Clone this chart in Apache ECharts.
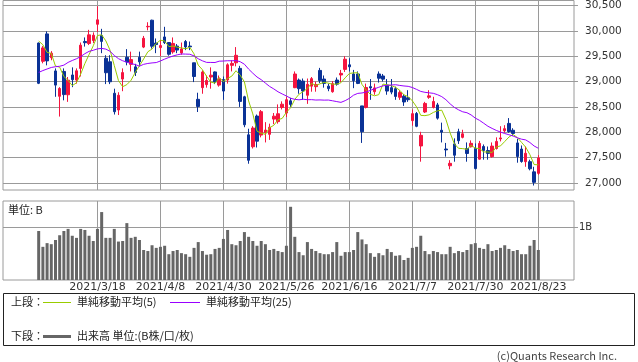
<!DOCTYPE html>
<html><head><meta charset="utf-8">
<script src="https://cdn.jsdelivr.net/npm/echarts@6/dist/echarts.min.js"></script>
<style>html,body{margin:0;padding:0;background:#fff}#c{width:638px;height:362px}</style>
</head><body><div id="c"></div>
<script>
const dates = ['2021/2/26','2021/3/1','2021/3/2','2021/3/3','2021/3/4','2021/3/5','2021/3/8','2021/3/9','2021/3/10','2021/3/11','2021/3/12','2021/3/15','2021/3/16','2021/3/17','2021/3/18','2021/3/19','2021/3/22','2021/3/23','2021/3/24','2021/3/25','2021/3/26','2021/3/29','2021/3/30','2021/3/31','2021/4/1','2021/4/2','2021/4/5','2021/4/6','2021/4/7','2021/4/8','2021/4/9','2021/4/12','2021/4/13','2021/4/14','2021/4/15','2021/4/16','2021/4/19','2021/4/20','2021/4/21','2021/4/22','2021/4/23','2021/4/26','2021/4/27','2021/4/28','2021/4/30','2021/5/6','2021/5/7','2021/5/10','2021/5/11','2021/5/12','2021/5/13','2021/5/14','2021/5/17','2021/5/18','2021/5/19','2021/5/20','2021/5/21','2021/5/24','2021/5/25','2021/5/26','2021/5/27','2021/5/28','2021/5/31','2021/6/1','2021/6/2','2021/6/3','2021/6/4','2021/6/7','2021/6/8','2021/6/9','2021/6/10','2021/6/11','2021/6/14','2021/6/15','2021/6/16','2021/6/17','2021/6/18','2021/6/21','2021/6/22','2021/6/23','2021/6/24','2021/6/25','2021/6/28','2021/6/29','2021/6/30','2021/7/1','2021/7/2','2021/7/5','2021/7/6','2021/7/7','2021/7/8','2021/7/9','2021/7/12','2021/7/13','2021/7/14','2021/7/15','2021/7/16','2021/7/19','2021/7/20','2021/7/21','2021/7/26','2021/7/27','2021/7/28','2021/7/29','2021/7/30','2021/8/2','2021/8/3','2021/8/4','2021/8/5','2021/8/6','2021/8/10','2021/8/11','2021/8/12','2021/8/13','2021/8/16','2021/8/17','2021/8/18','2021/8/19','2021/8/20','2021/8/23'];

const opens = [29760,29400,29940,29470,29210,28710,29200,28740,29130,29030,29260,29790,29750,29810,30130,29910,29460,29390,28770,28440,29050,29480,29340,29290,29480,29680,30080,30210,29760,29670,29880,29770,29585,29700,29565,29790,29700,29370,28650,28880,28940,29090,29190,28930,29040,29030,29320,29370,29260,28700,27950,27715,28320,27945,27990,27960,28260,28210,28490,28380,28620,28880,29030,29010,28730,28910,28900,29220,29050,28910,28800,29030,29130,29240,29330,29150,29150,28520,28490,28900,28800,29150,29110,28930,28880,28860,28690,28710,28680,28230,28370,27730,28400,28690,28490,28540,28040,27670,27340,27770,28010,27900,27680,27715,27680,27470,27720,27640,27520,27680,27870,28030,28175,28040,27790,27670,27420,27420,27220,27190];
const highs = [29770,29700,29990,29600,29260,28890,29260,29090,29280,29260,29770,29870,30020,29970,30485,30040,29520,29520,28860,28790,29260,29640,29590,29350,29590,29900,30170,30220,29850,29820,30080,29780,29870,29740,29770,29820,29790,29370,28780,29220,29120,29280,29200,29120,29100,29360,29420,29680,29310,28720,28070,28120,28350,28440,28200,28170,28380,28550,28610,28700,28680,29200,29060,29060,29060,29090,29000,29270,29120,28960,29010,29080,29230,29500,29460,29230,29200,28520,28960,29050,28960,29200,29150,29050,29050,28900,28830,28750,28830,28450,28400,28010,28600,28830,28700,28580,28190,27790,27450,27880,28070,28050,27800,27840,27780,27830,27760,27720,27800,27900,28120,28140,28280,28080,27870,27740,27720,27460,27320,27550];
const lows = [28950,29360,29320,29420,28700,28310,28630,28600,28890,28960,29100,29690,29720,29760,29980,29560,28950,28950,28350,28340,28810,29320,29200,29110,29300,29660,30010,29650,29560,29500,29740,29510,29550,29560,29530,29620,29620,28990,28400,28760,28880,28860,28950,28900,28640,28960,29200,29300,28500,28100,27380,27680,27700,27900,27800,27850,28160,28170,28450,28300,28500,28870,28760,28640,28560,28800,28800,28970,28880,28810,28780,28920,28990,29190,29200,28870,28950,27790,28470,28640,28740,28980,29000,28740,28750,28640,28640,28520,28600,28130,28100,27420,28380,28660,28470,28250,27800,27520,27270,27420,27770,27880,27420,27700,27270,27460,27460,27460,27500,27660,27820,27990,27990,27930,27400,27400,27320,27250,26950,27160];
const closes = [28966,29664,29408,29559,28930,28864,28743,29028,29037,29212,29718,29767,29921,29914,30217,29792,29174,28996,28406,28730,29177,29385,29433,29179,29389,29854,30089,29697,29731,29709,29768,29539,29752,29621,29643,29683,29685,29100,28509,29188,29021,29126,28992,29054,28813,29331,29358,29518,28609,28148,27448,28084,27825,28407,28044,28098,28318,28365,28554,28642,28549,29149,28860,28814,28946,29058,28942,29019,28964,28861,28959,28949,29162,29441,29291,29018,28964,28011,28884,28875,28875,29066,29048,28813,28792,28707,28783,28598,28643,28367,28118,27940,28569,28718,28608,28279,28003,27653,27388,27548,27833,27970,27582,27782,27284,27781,27642,27584,27728,27820,27888,28071,28015,27977,27523,27424,27586,27281,27013,27494];

const ma5 = [29798,29726,29576,29554,29306,29284,29100,29024,28920,28976,29148,29354,29532,29706,29908,29922,29802,29618,29318,29020,28898,28940,29026,29180,29312,29446,29588,29642,29752,29816,29800,29690,29700,29678,29664,29646,29676,29546,29324,29234,29102,28990,28968,29076,29000,29062,29108,29214,29126,28994,28618,28362,28022,27982,27960,28090,28138,28246,28274,28394,28484,28650,28750,28802,28864,28966,28924,28956,28986,28968,28948,28950,28978,29074,29160,29172,29174,28944,28832,28748,28720,28742,28950,28936,28920,28886,28828,28738,28704,28620,28502,28334,28328,28344,28392,28424,28436,28252,27986,27774,27684,27678,27664,27742,27688,27678,27612,27612,27602,27710,27732,27818,27906,27956,27896,27802,27706,27558,27364,27358];
const ma25 = [29181,29217,29248,29278,29293,29302,29324,29378,29416,29450,29493,29550,29596,29617,29645,29654,29640,29597,29515,29452,29410,29384,29355,29336,29304,29340,29357,29368,29375,29406,29443,29475,29504,29527,29544,29542,29539,29506,29450,29409,29378,29377,29376,29402,29405,29411,29410,29414,29391,29342,29246,29165,29090,29037,28970,28904,28855,28799,28756,28716,28671,28650,28640,28652,28642,28644,28636,28638,28634,28636,28621,28605,28590,28624,28669,28732,28767,28775,28794,28827,28858,28888,28916,28926,28932,28938,28924,28913,28906,28883,28846,28806,28788,28778,28768,28741,28703,28642,28560,28491,28443,28404,28386,28342,28279,28235,28178,28119,28076,28037,28004,27976,27952,27926,27892,27864,27850,27798,27730,27685];

const volumes = [0.93,0.63,0.70,0.68,0.76,0.85,0.93,0.97,0.84,0.80,0.97,0.95,0.84,0.74,0.97,1.29,0.80,0.80,0.97,0.73,0.74,1.08,0.80,0.82,0.76,0.57,0.55,0.66,0.61,0.63,0.65,0.49,0.55,0.57,0.51,0.49,0.44,0.61,0.72,0.55,0.48,0.49,0.59,0.61,0.78,0.95,0.68,0.66,0.74,0.91,0.82,0.74,0.65,0.74,0.68,0.57,0.59,0.55,0.53,0.65,1.39,0.82,0.53,0.47,0.72,0.59,0.55,0.51,0.49,0.49,0.53,0.72,0.46,0.53,0.53,0.57,0.91,0.77,0.68,0.51,0.44,0.51,0.47,0.59,0.53,0.46,0.47,0.38,0.42,0.61,0.63,0.84,0.55,0.49,0.55,0.53,0.49,0.49,0.63,0.51,0.55,0.53,0.57,0.68,0.70,0.61,0.59,0.68,0.55,0.57,0.61,0.66,0.59,0.55,0.57,0.49,0.49,0.65,0.76,0.57];

const labelDates = ['2021/3/18','2021/4/8','2021/4/30','2021/5/26','2021/6/16','2021/7/7','2021/7/30','2021/8/23'];
const priceTicks = [27000,27500,28000,28500,29000,29500,30000,30500];
const volumeTicks = [1];

const PAD = 8;
const cats = [];
for (let k = 0; k < PAD; k++) cats.push('L' + k);
dates.forEach(d => cats.push(d));
for (let k = 0; k < PAD; k++) cats.push('R' + k);
const padArr = () => Array(PAD).fill('-');
const withPad = arr => padArr().concat(arr, padArr());

const candleData = withPad(dates.map((d, i) => [opens[i], closes[i], lows[i], highs[i]]));
const labelSet = new Set(labelDates);

const RED = '#f5143f', BLUE = '#0a3296', GRID = '#9a9a9a';
const vLines = () => ({
  silent: true, symbol: 'none', z: 1, animation: false,
  label: { show: false },
  lineStyle: { color: GRID, width: 1, type: 'solid' },
  emphasis: { disabled: true },
  data: labelDates.map(d => ({ xAxis: d }))
});

const chart = echarts.init(document.getElementById('c'), null, { renderer: 'canvas' });
const jp = '"Noto Sans CJK JP", sans-serif';
chart.setOption({
  animation: false,
  backgroundColor: '#fff',
  grid: [
    { left: 3, top: 0, width: 571, height: 190, show: true, borderColor: GRID, borderWidth: 1 },
    { left: 3, top: 201, width: 571, height: 79, show: true, borderColor: GRID, borderWidth: 1 }
  ],
  xAxis: [
    { type: 'category', gridIndex: 0, data: cats, boundaryGap: true,
      axisLine: { show: false }, axisTick: { show: false }, axisLabel: { show: false }, splitLine: { show: false } },
    { type: 'category', gridIndex: 1, data: cats, boundaryGap: true,
      axisLine: { show: false }, axisTick: { show: false }, splitLine: { show: false },
      axisLabel: { show: true, interval: (i, v) => labelSet.has(v), fontSize: 11, color: '#333',
        fontFamily: 'DejaVu Sans', margin: 2 } }
  ],
  yAxis: [
    { type: 'value', gridIndex: 0, position: 'right', min: 26862, max: 30598, scale: true,
      axisLine: { show: false },
      axisTick: { show: true, length: 4, customValues: priceTicks, lineStyle: { color: GRID } },
      axisLabel: { customValues: priceTicks, margin: 11, fontSize: 10.5, color: '#333', fontFamily: 'DejaVu Sans',
        formatter: v => v.toLocaleString('en-US') },
      splitLine: { show: true, lineStyle: { color: GRID, width: 1 } } },
    { type: 'value', gridIndex: 1, position: 'right', min: 0, max: 1.5,
      axisLine: { show: false },
      axisTick: { show: true, length: 4, customValues: volumeTicks, lineStyle: { color: GRID } },
      axisLabel: { customValues: volumeTicks, margin: 5, fontSize: 10, color: '#333', fontFamily: 'DejaVu Sans',
        formatter: v => v + 'B' },
      splitLine: { show: true, lineStyle: { color: GRID, width: 1 } } }
  ],
  series: [
    { type: 'candlestick', name: '日足', xAxisIndex: 0, yAxisIndex: 0, data: candleData, barWidth: 3,
      itemStyle: { color: RED, color0: BLUE, borderColor: RED, borderColor0: BLUE, borderWidth: 1 },
      markLine: vLines() },
    { type: 'line', name: '単純移動平均(5)', xAxisIndex: 0, yAxisIndex: 0, data: withPad(ma5), symbol: 'none',
      lineStyle: { color: '#99cc00', width: 1 }, itemStyle: { color: '#99cc00' }, z: 3 },
    { type: 'line', name: '単純移動平均(25)', xAxisIndex: 0, yAxisIndex: 0, data: withPad(ma25), symbol: 'none',
      lineStyle: { color: '#9900ff', width: 1 }, itemStyle: { color: '#9900ff' }, z: 3 },
    { type: 'bar', name: '出来高', xAxisIndex: 1, yAxisIndex: 1, data: withPad(volumes), barWidth: 3,
      itemStyle: { color: '#666666' }, markLine: vLines() }
  ],
  graphic: [
    { type: 'text', x: 8, y: 210, style: { text: '単位: B', font: '11px ' + jp, fill: '#222', verticalAlign: 'middle' } },
    { type: 'rect', shape: { x: 3.5, y: 293.5, width: 631, height: 52 }, style: { fill: 'none', stroke: '#222', lineWidth: 1 } },
    { type: 'text', x: 11, y: 302, style: { text: '上段：', font: '11px ' + jp, fill: '#222', verticalAlign: 'middle' } },
    { type: 'line', shape: { x1: 43, y1: 302.5, x2: 71, y2: 302.5 }, style: { stroke: '#99cc00', lineWidth: 1 } },
    { type: 'text', x: 77, y: 302, style: { text: '単純移動平均(5)', font: '11px ' + jp, fill: '#222', verticalAlign: 'middle' } },
    { type: 'line', shape: { x1: 170, y1: 302.5, x2: 200, y2: 302.5 }, style: { stroke: '#9900ff', lineWidth: 1 } },
    { type: 'text', x: 206, y: 302, style: { text: '単純移動平均(25)', font: '11px ' + jp, fill: '#222', verticalAlign: 'middle' } },
    { type: 'text', x: 11, y: 336, style: { text: '下段：', font: '11px ' + jp, fill: '#222', verticalAlign: 'middle' } },
    { type: 'line', shape: { x1: 43, y1: 336.5, x2: 71, y2: 336.5 }, style: { stroke: '#666666', lineWidth: 3 } },
    { type: 'text', x: 77, y: 336, style: { text: '出来高 単位:(B株/口/枚)', font: '11px ' + jp, fill: '#222', verticalAlign: 'middle' } },
    { type: 'text', x: 617, y: 356, style: { text: '(c)Quants Research Inc.', font: '11px ' + jp, fill: '#444', align: 'right', verticalAlign: 'middle' } }
  ]
});
</script>
</body></html>
